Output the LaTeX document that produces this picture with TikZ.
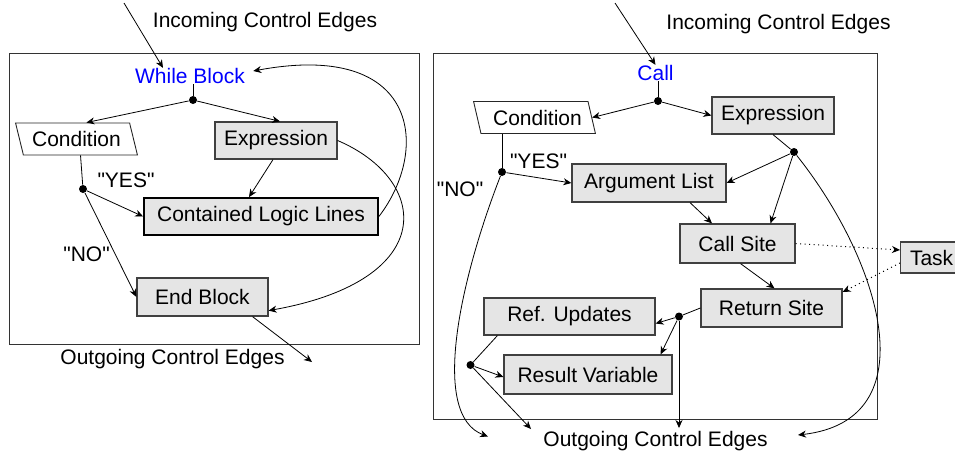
\documentclass[tikz,border=0pt]{standalone}
\usepackage{fontspec}
\setmainfont{Liberation Sans}[Ligatures=TeXOff]
\usetikzlibrary{arrows.meta,shapes.geometric}

\begin{document}
\begin{tikzpicture}[x=1pt, y=-1pt, font=\fontsize{21}{25}\selectfont, line width=0.8pt,
    >={Stealth[length=8pt, width=7pt, inset=2.5pt]},
    box/.style = {draw=black!75, fill=black!10, line width=1.2pt, minimum height=37pt, inner sep=0pt},
    cnd/.style = {draw=black!85, line width=0.9pt, trapezium, trapezium left angle=113, trapezium right angle=67, trapezium stretches=true, minimum width=122pt, minimum height=32pt, inner sep=0pt},
    jn/.style = {circle, fill, inner sep=0pt, minimum size=8pt},
    ttl/.style = {text=blue, inner sep=0pt},
    lbl/.style = {inner sep=0pt},
    frm/.style = {draw=black!80, line width=1pt},
    dots/.style = {->, line width=1pt, dash pattern=on 1pt off 3.5pt}]
    \useasboundingbox (0,0) rectangle (955,450);

    \node[lbl] (inL) at (265,22.5) {Incoming Control Edges};
    \coordinate (srcL) at (124,3);
    \node[ttl] (wb) at (190,76) {While Block};
    \node[jn] (j1) at (193,100) {};
    \node[cnd] (cd1) at (76.5,139) {Condition};
    \node[box, minimum width=122pt] (ex1) at (276,140.5) {Expression};
    \node[jn] (j2) at (83,189) {};
    \node[lbl] (yes1) at (126,180) {"YES"};
    \node[box, minimum width=234pt, draw=black, line width=1.8pt] (cll) at (261,216.5) {Contained Logic Lines};
    \node[lbl] (no1) at (86.5,254) {"NO"};
    \node[box, minimum width=131pt, minimum height=38pt] (eb) at (202.5,297) {End Block};
    \node[lbl] (outL) at (172.5,359) {Outgoing Control Edges};
    \coordinate (dstL) at (312,362);
    \draw[frm] (9,53) rectangle (419,344);

    \draw[->] (srcL) -- ([xshift=-27pt]wb.north);
    \draw (wb.south -| j1) -- (j1);
    \draw[->] (j1) -- ([xshift=14pt]cd1.top side);
    \draw[->] (j1) -- ([xshift=4pt]ex1.north);
    \draw (cd1.bottom side) -- (j2);
    \draw[->] (j2) -- (cll.west);
    \draw[->] (j2) -- (eb.west);
    \draw[->] ([xshift=-3pt]ex1.south) -- ([xshift=-12pt]cll.north);
    \draw[->] (cll.east) .. controls (430,150) and (420,40) .. ([xshift=8pt,yshift=5pt]wb.east);
    \draw[->] (ex1.east) .. controls (430,180) and (440,280) .. ([yshift=6pt]eb.south east);
    \draw[->] ([xshift=50pt]eb.south) -- (dstL);

    \node[lbl] (inR) at (778.5,24) {Incoming Control Edges};
    \coordinate (srcR) at (615,3);
    \node[ttl] (call) at (655.5,73) {Call};
    \node[jn] (j3) at (658,101) {};
    \node[cnd] (cd2) at (534.5,117.5) {\hspace*{6pt}Condition};
    \node[box, minimum width=122pt] (ex2) at (773,115.5) {Expression};
    \node[jn] (j4) at (794,152) {};
    \node[jn] (j5) at (502,172) {};
    \node[lbl] (yes2) at (538.5,161) {"YES"};
    \node[lbl] (no2) at (460,189) {"NO"};
    \node[box, minimum width=154pt, minimum height=38pt] (arg) at (649,183) {Argument List};
    \node[box, minimum width=115pt, minimum height=39pt] (cs) at (737.5,243.5) {Call Site};
    \node[box, minimum width=62pt, minimum height=31pt, anchor=west] (task) at (900,257.5) {Task};
    \node[box, minimum width=141pt, minimum height=38pt] (rs) at (771.5,308) {Return Site};
    \node[jn] (j6) at (679,316.5) {};
    \node[box, minimum width=171pt] (ref) at (569.5,316.5) {Ref. Updates};
    \node[jn] (j7) at (470.5,365) {};
    \node[box, minimum width=168pt, minimum height=39pt] (res) at (588,374.5) {Result Variable};
    \node[lbl] (outR) at (655.5,441) {Outgoing Control Edges};
    \coordinate (dstR1) at (488,436.5);
    \coordinate (dstR2) at (531,429);
    \coordinate (dstR3) at (679,428);
    \coordinate (dstR4) at (798,435);
    \draw[frm] (433,53) rectangle (877,419.5);

    \draw[->] (srcR) -- (call.north);
    \draw (call.south -| j3) -- (j3);
    \draw[->] (j3) -- (cd2.right side);
    \draw[->] (j3) -- (ex2.west);
    \draw (ex2.south) -- (j4);
    \draw[->] (j4) -- (arg.east);
    \draw[->] (j4) -- ([xshift=33pt]cs.north);
    \draw[->] (j4) .. controls (880,260) and (930,420) .. (dstR4);
    \draw (cd2.bottom left corner -| j5) -- (j5);
    \draw[->] (j5) -- (arg.west);
    \draw[->] (j5) .. controls (460,280) and (430,415) .. (dstR1);
    \draw[->] ([xshift=41pt]arg.south) -- ([xshift=-25.5pt]cs.north);
    \draw[dots] (cs.east) -- ([yshift=7.5pt]task.west);
    \draw[dots] ([yshift=-5.5pt]task.west) -- ([yshift=16pt]rs.east);
    \draw[->] ([xshift=3pt]cs.south) -- ([xshift=3pt]rs.north);
    \draw (rs.west) -- (j6);
    \draw[->] (j6) -- ([yshift=-7pt]ref.east);
    \draw[->] (j6) -- ([xshift=-12pt]res.north east);
    \draw[->] (j6) -- (dstR3);
    \draw ([xshift=14pt]ref.south west) -- (j7);
    \draw[->] (j7) -- ([yshift=-2.5pt]res.west);
    \draw[->] (j7) -- (dstR2);
\end{tikzpicture}
\end{document}
